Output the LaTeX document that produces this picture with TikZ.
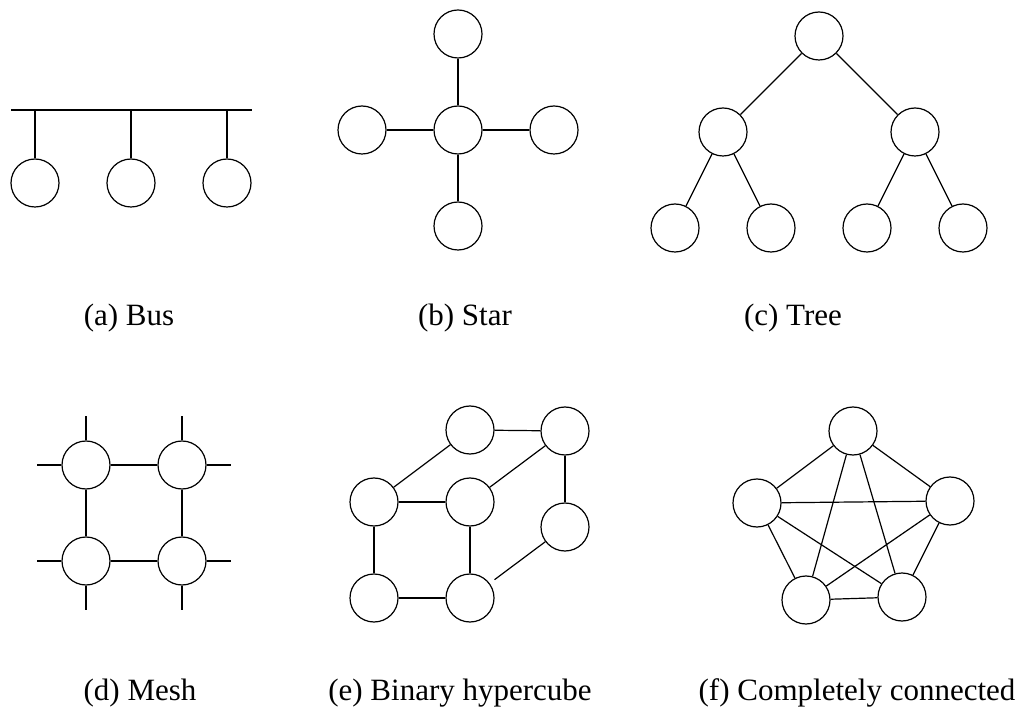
\documentclass[tikz,border=0pt]{standalone}
\usepackage{fontspec}
\setmainfont{Liberation Serif}
\begin{document}
\begin{tikzpicture}[x=1pt,y=-1pt,
  nd/.style={circle,draw,line width=1.2pt,minimum size=48pt,inner sep=0pt},
  ln/.style={line width=1.2pt},
  lbl/.style={anchor=base,inner sep=0pt,font=\fontsize{31}{36}\selectfont}]
\useasboundingbox (0,0) rectangle (1023,708);
% (a) Bus
\coordinate (busL) at (11,110);
\coordinate (busR) at (252,110);
\coordinate (t1) at (35,110);
\coordinate (t2) at (131,110);
\coordinate (t3) at (227,110);
\node[nd] (b1) at (35,183) {};
\node[nd] (b2) at (131,183) {};
\node[nd] (b3) at (227,183) {};
\draw[ln] (busL) -- (busR);
\draw[ln] (t1) -- (b1.north);
\draw[ln] (t2) -- (b2.north);
\draw[ln] (t3) -- (b3.north);
\node[lbl] (la) at (129,326) {(a) Bus};
% (b) Star
\node[nd] (sc) at (458,130) {};
\node[nd] (st) at (458,34) {};
\node[nd] (sl) at (362,130) {};
\node[nd] (sr) at (554,130) {};
\node[nd] (sb) at (458,226) {};
\foreach \n in {st,sl,sr,sb} \draw[ln] (sc) -- (\n);
\node[lbl] (lb) at (465,326) {(b) Star};
% (c) Tree
\node[nd] (tr) at (819,36) {};
\node[nd] (tl1) at (723,132) {};
\node[nd] (tr1) at (915,132) {};
\node[nd] (l1) at (675,228) {};
\node[nd] (l2) at (771,228) {};
\node[nd] (l3) at (867,228) {};
\node[nd] (l4) at (963,228) {};
\draw[ln] (tr) -- (tl1);
\draw[ln] (tr) -- (tr1);
\draw[ln] (tl1) -- (l1);
\draw[ln] (tl1) -- (l2);
\draw[ln] (tr1) -- (l3);
\draw[ln] (tr1) -- (l4);
\node[lbl] (lc) at (793,326) {(c) Tree};
% (d) Mesh
\node[nd] (m11) at (86,465) {};
\node[nd] (m12) at (182,465) {};
\node[nd] (m21) at (86,561) {};
\node[nd] (m22) at (182,561) {};
\draw[ln] (m11) -- (m12);
\draw[ln] (m21) -- (m22);
\draw[ln] (m11) -- (m21);
\draw[ln] (m12) -- (m22);
\draw[ln] (m11.west) -- ++(-24,0);
\draw[ln] (m11.north) -- ++(0,-24);
\draw[ln] (m12.east) -- ++(24,0);
\draw[ln] (m12.north) -- ++(0,-24);
\draw[ln] (m21.west) -- ++(-24,0);
\draw[ln] (m21.south) -- ++(0,24);
\draw[ln] (m22.east) -- ++(24,0);
\draw[ln] (m22.south) -- ++(0,24);
\node[lbl] (ld) at (140,700) {(d) Mesh};
% (e) Binary hypercube
\node[nd] (hA) at (470,430) {};
\node[nd] (hB) at (565,431) {};
\node[nd] (hC) at (374,502) {};
\node[nd] (hD) at (470,502) {};
\node[nd] (hE) at (565,527) {};
\node[nd] (hF) at (374,598) {};
\node[nd] (hG) at (470,598) {};
\draw[ln] (hA) -- (hB);
\draw[ln] (hC) -- (hA);
\draw[ln] (hD) -- (hB);
\draw[ln] (hB) -- (hE);
\draw[ln] (hC) -- (hD);
\draw[ln] (hC) -- (hF);
\draw[ln] (hD) -- (hG);
\draw[ln] (hF) -- (hG);
\draw[ln,shorten <=6pt] (hG) -- (hE);
\node[lbl] (le) at (460,700) {(e) Binary hypercube};
% (f) Completely connected
\node[nd] (kT) at (853,431) {};
\node[nd] (kL) at (757,503) {};
\node[nd] (kR) at (950,501) {};
\node[nd] (kBL) at (806,600) {};
\node[nd] (kBR) at (902,597) {};
\draw[ln] (kT) -- (kL);
\draw[ln] (kT) -- (kR);
\draw[ln] (kT) -- (kBL);
\draw[ln] (kT) -- (kBR);
\draw[ln] (kL) -- (kR);
\draw[ln] (kL) -- (kBL);
\draw[ln] (kL) -- (kBR);
\draw[ln] (kR) -- (kBL);
\draw[ln] (kR) -- (kBR);
\draw[ln] (kBL) -- (kBR);
\node[lbl] (lf) at (857,700) {(f) Completely connected};
\end{tikzpicture}
\end{document}
